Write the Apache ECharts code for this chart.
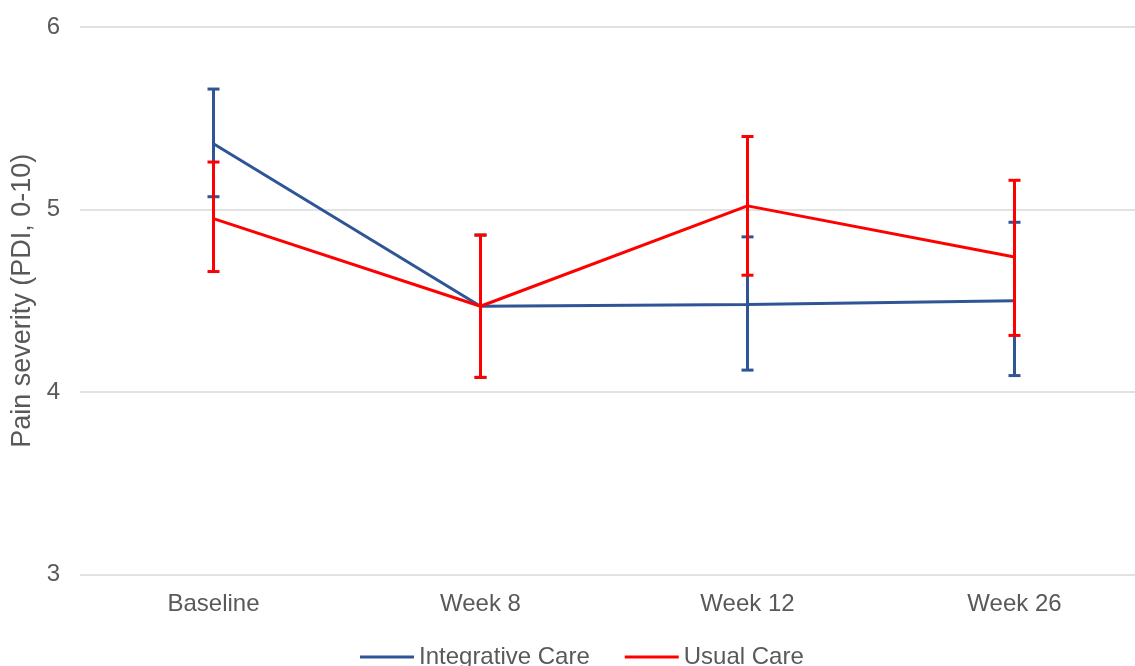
<!DOCTYPE html>
<html>
<head>
<meta charset="utf-8">
<script src="https://cdn.jsdelivr.net/npm/echarts@6/dist/echarts.min.js"></script>
<style>
html,body{margin:0;padding:0;background:#fff;}
#chart{width:1135px;height:666px;}
</style>
</head>
<body>
<div id="chart"></div>
<script>
const categories = ['Baseline', 'Week 8', 'Week 12', 'Week 26'];
const integrativeMean = [5.36, 4.47, 4.48, 4.50];
const integrativeLow  = [5.07, 4.08, 4.12, 4.09];
const integrativeHigh = [5.66, 4.86, 4.85, 4.93];
const usualMean = [4.95, 4.47, 5.02, 4.74];
const usualLow  = [4.66, 4.08, 4.64, 4.31];
const usualHigh = [5.26, 4.86, 5.40, 5.16];
const yTicks = [3, 4, 5, 6];

const BLUE = '#2F5597';
const RED = '#FF0000';
const FONT = 'Liberation Sans, Arial, sans-serif';
const TXT = '#595959';

function errData(low, high) {
  return categories.map((c, i) => [i, low[i], high[i]]);
}
function errSeries(name, color, low, high, z) {
  return {
    type: 'custom',
    name: name + ' error',
    z: z,
    silent: true,
    clip: false,
    data: errData(low, high),
    encode: { x: 0, y: [1, 2] },
    renderItem: function (params, api) {
      const x = api.value(0);
      const lo = api.coord([x, api.value(1)]);
      const hi = api.coord([x, api.value(2)]);
      const half = 6;
      const style = { stroke: color, lineWidth: 3, fill: null };
      return {
        type: 'group',
        children: [
          { type: 'line', shape: { x1: lo[0], y1: lo[1], x2: hi[0], y2: hi[1] }, style: style },
          { type: 'line', shape: { x1: lo[0] - half, y1: lo[1], x2: lo[0] + half, y2: lo[1] }, style: style },
          { type: 'line', shape: { x1: hi[0] - half, y1: hi[1], x2: hi[0] + half, y2: hi[1] }, style: style }
        ]
      };
    }
  };
}

const chart = echarts.init(document.getElementById('chart'), null, { renderer: 'canvas' });
chart.setOption({
  animation: false,
  backgroundColor: '#fff',
  textStyle: { fontFamily: FONT },
  grid: { left: 80, top: 27, width: 1068, height: 547.5, containLabel: false, outerBoundsMode: 'none' },
  legend: {
    data: ['Integrative Care', 'Usual Care'],
    left: 355,
    top: 640,
    icon: 'rect',
    itemWidth: 54,
    itemHeight: 3,
    itemGap: 35,
    textStyle: { fontSize: 24, color: TXT, fontFamily: FONT }
  },
  xAxis: {
    type: 'category',
    data: categories,
    boundaryGap: true,
    axisLine: { show: false },
    axisTick: { show: false },
    axisLabel: { fontSize: 24, color: TXT, fontFamily: FONT, margin: 18 }
  },
  yAxis: {
    type: 'value',
    min: yTicks[0],
    max: yTicks[yTicks.length - 1],
    interval: 1,
    name: 'Pain severity (PDI, 0-10)',
    nameLocation: 'middle',
    nameGap: 42,
    nameTextStyle: { fontSize: 27, color: TXT, fontFamily: FONT },
    axisLine: { show: false },
    axisTick: { show: false },
    axisLabel: { fontSize: 24, color: TXT, fontFamily: FONT, margin: 20 },
    splitLine: { lineStyle: { color: '#D9D9D9', width: 1.5 } }
  },
  series: [
    {
      name: 'Integrative Care',
      type: 'line',
      data: integrativeMean,
      symbol: 'none',
      color: BLUE,
      lineStyle: { color: BLUE, width: 3 },
      z: 2
    },
    errSeries('Integrative Care', BLUE, integrativeLow, integrativeHigh, 3),
    {
      name: 'Usual Care',
      type: 'line',
      data: usualMean,
      symbol: 'none',
      color: RED,
      lineStyle: { color: RED, width: 3 },
      z: 4
    },
    errSeries('Usual Care', RED, usualLow, usualHigh, 5)
  ]
});
</script>
</body>
</html>
